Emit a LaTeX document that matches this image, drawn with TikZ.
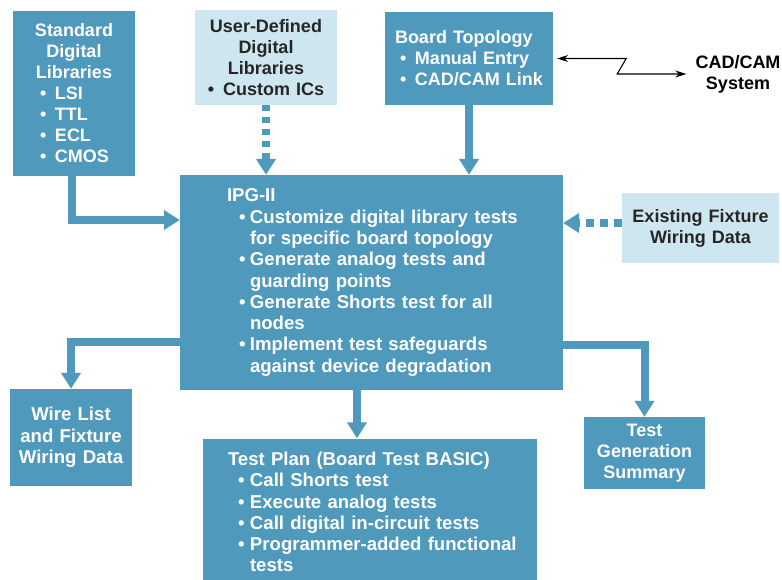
\documentclass[tikz,border=0pt]{standalone}
\usepackage{fontspec}
\setmainfont{Liberation Sans}
\usetikzlibrary{arrows.meta}
\definecolor{boxdark}{RGB}{79,153,189}
\definecolor{boxlight}{RGB}{205,230,240}
\definecolor{inkdark}{RGB}{38,38,38}
\newcommand\bul[2]{\hspace*{#1}\makebox[#2][l]{•}}
\newcommand\ctr[1]{\makebox[\linewidth][c]{#1}}
\tikzset{
  basebox/.style={rectangle, inner xsep=0pt, inner ysep=0pt, align=left,
    font=\bfseries\fontsize{18}{21}\selectfont},
  bigtext/.style={font=\bfseries\fontsize{18.6}{21.3}\selectfont},
  darkbox/.style={basebox, fill=boxdark, text=white},
  lightbox/.style={basebox, fill=boxlight, text=inkdark},
  fatarrow/.style={draw=boxdark, line width=8pt,
    -{Triangle[width=19pt,length=16pt]}},
  dottedarrow/.style={fatarrow, dash pattern=on 6pt off 6pt},
  thinarrow/.style={draw=black, line width=1.1pt,
    {Stealth[length=11pt,width=7pt]}-{Stealth[length=11pt,width=7pt]}}
}
\begin{document}
\begin{tikzpicture}[x=1pt,y=-1pt]
\useasboundingbox (0,0) rectangle (782,579);
\fill[white] (0,0) rectangle (782,579);

\node[darkbox, text width=122pt, minimum height=165pt] (std) at (74,93)
  {\ctr{Standard}\\ \ctr{Digital}\\ \ctr{Libraries}\\
   \bul{27pt}{15pt}LSI\\ \bul{27pt}{15pt}TTL\\ \bul{27pt}{15pt}ECL\\ \bul{27pt}{15pt}CMOS};

\node[lightbox, text width=142pt, minimum height=95pt] (user) at (266,57.5)
  {\ctr{User-Defined}\\ \ctr{Digital}\\ \ctr{Libraries}\\ \ctr{•\enspace Custom ICs}};

\node[darkbox, text width=168pt, minimum height=93pt] (board) at (469,58.5)
  {\hspace*{10pt}Board Topology\\ \bul{15pt}{15pt}Manual Entry\\ \bul{15pt}{15pt}CAD/CAM Link};

\node[basebox, text=black, align=center, inner sep=0pt] (cad) at (738,74)
  {CAD/CAM\\System};

\node[darkbox, bigtext, text width=383pt, minimum height=215pt] (ipg) at (371.5,282.5)
  {\hspace*{47pt}IPG-II\\
   \bul{59pt}{11pt}Customize digital library tests\\
   \hspace*{70pt}for specific board topology\\
   \bul{59pt}{11pt}Generate analog tests and\\
   \hspace*{70pt}guarding points\\
   \bul{59pt}{11pt}Generate Shorts test for all\\
   \hspace*{70pt}nodes\\
   \bul{59pt}{11pt}Implement test safeguards\\
   \hspace*{70pt}against device degradation};

\node[lightbox, text width=157pt, minimum height=70pt] (exist) at (700.5,228)
  {\ctr{Existing Fixture}\\ \ctr{Wiring Data}};

\node[darkbox, bigtext, text width=122pt, minimum height=97pt] (wire) at (71,437.5)
  {\ctr{Wire List}\\ \ctr{and Fixture}\\ \ctr{Wiring Data}};

\node[darkbox, text width=121pt, minimum height=72pt] (tgen) at (644.5,453)
  {\ctr{Test}\\ \ctr{Generation}\\ \ctr{Summary}};

\node[darkbox, bigtext, text width=334pt, minimum height=147pt] (tplan) at (370,512)
  {\hspace*{25pt}Test Plan (Board Test BASIC)\\
   \bul{35pt}{12pt}Call Shorts test\\
   \bul{35pt}{12pt}Execute analog tests\\
   \bul{35pt}{12pt}Call digital in-circuit tests\\
   \bul{35pt}{12pt}Programmer-added functional\\
   \hspace*{47pt}tests};

% connectors
\draw[fatarrow] ([xshift=-2pt]std.south) |- ([yshift=62.5pt]ipg.west);
\draw[dottedarrow] (user.south) -- (user.south |- ipg.north);
\draw[fatarrow] (board.south) -- (board.south |- ipg.north);
\draw[fatarrow, dash pattern=on 8pt off 6pt] ([yshift=5pt]exist.west) -- ([yshift=5pt]exist.west -| ipg.east);
\draw[fatarrow] ([yshift=-59.5pt]ipg.west) -| (wire.north);
\draw[fatarrow] ([yshift=-62.5pt]ipg.east) -| (tgen.north);
\draw[fatarrow] ([xshift=-14.5pt]ipg.south) -- ([xshift=-14.5pt]ipg.south |- tplan.north);
\draw[thinarrow] ([xshift=4pt]board.east) -- ++(69,0) -- ++(-9,15.5) -- ([xshift=-9pt]cad.west);
\end{tikzpicture}
\end{document}
